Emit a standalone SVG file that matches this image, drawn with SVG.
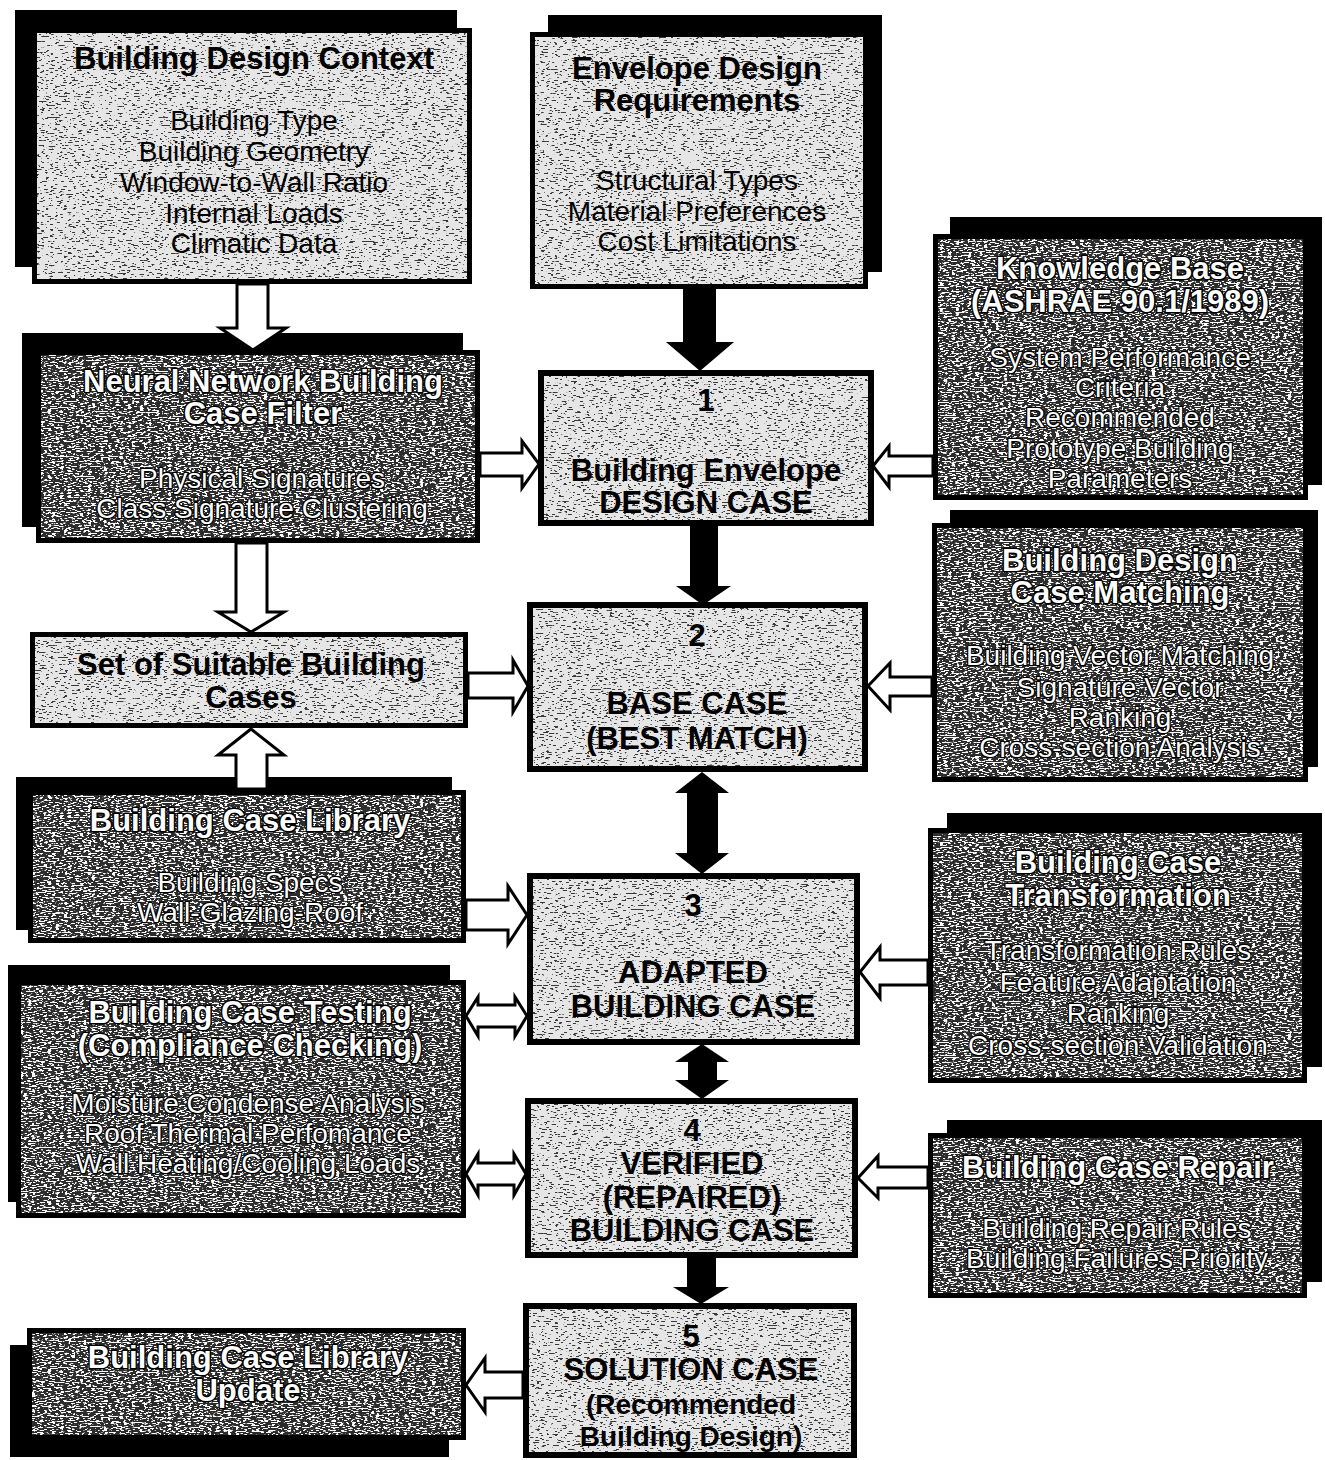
<svg xmlns="http://www.w3.org/2000/svg" width="1325" height="1460" viewBox="0 0 1325 1460">
  <style>
    .shadow { fill: #000; }
    .lt { fill: #e6e6e6; stroke: #000; stroke-width: 5; }
    .dk { fill: #2c2c2c; stroke: #000; stroke-width: 5; }
    .core { fill: #e6e6e6; stroke: #000; stroke-width: 6; }
    text { font-family: "Liberation Sans", Arial, Helvetica, sans-serif; text-anchor: middle; }
    .tb { font-weight: bold; font-size: 31px; fill: #000; }
    .tb2 { font-weight: bold; font-size: 28px; fill: #000; }
    .tr { font-size: 28px; fill: #000; }
    .wb { font-weight: bold; font-size: 31px; fill: #fff; stroke: #000; stroke-width: 3; paint-order: stroke; stroke-linejoin: round; }
    .wr { font-size: 28px; fill: #fff; stroke: #000; stroke-width: 2.6; paint-order: stroke; stroke-linejoin: round; }
    .hollow { fill: #fff; stroke: #000; stroke-width: 3; stroke-linejoin: miter; }
    .solid { fill: #000; }
    .gl { fill: #000; opacity: 0.75; }
    .gd { fill: #fff; }
  </style>
  <defs>
    <!-- sparse dark streaks for pale panels -->
    <filter id="grainL" x="0" y="0" width="1" height="1">
      <feTurbulence type="fractalNoise" baseFrequency="0.22 0.75" numOctaves="2" seed="7" result="t"/>
      <feColorMatrix in="t" type="matrix" values="0 0 0 0 0  0 0 0 0 0  0 0 0 0 0  -24 0 0 0 9.2" result="d"/>
      <feComposite in="d" in2="SourceAlpha" operator="in"/>
    </filter>
    <!-- light streaks for dark panels -->
    <filter id="grainD" x="0" y="0" width="1" height="1">
      <feTurbulence type="fractalNoise" baseFrequency="0.25 0.8" numOctaves="2" seed="11" result="t"/>
      <feColorMatrix in="t" type="matrix" values="0 0 0 0 1  0 0 0 0 1  0 0 0 0 1  14 0 0 0 -7.3" result="d"/>
      <feComposite in="d" in2="SourceAlpha" operator="in"/>
    </filter>
  </defs>

  <!-- Building Design Context -->
  <g id="design-context">
    <rect class="shadow" x="15" y="10" width="442" height="257"/>
    <rect class="lt" x="34.5" y="30.5" width="435" height="251"/>
    <rect class="gl" x="37" y="33" width="430" height="246" filter="url(#grainL)"/>
    <text class="tb" x="254" y="69">Building Design Context</text>
    <text class="tr" x="254" y="130">Building Type</text>
    <text class="tr" x="254" y="161">Building Geometry</text>
    <text class="tr" x="254" y="192">Window-to-Wall Ratio</text>
    <text class="tr" x="254" y="223">Internal Loads</text>
    <text class="tr" x="254" y="253">Climatic Data</text>
  </g>

  <!-- Envelope Design Requirements -->
  <g id="envelope-requirements">
    <rect class="shadow" x="548" y="15" width="334" height="257"/>
    <rect class="lt" x="532.5" y="34.5" width="333" height="252"/>
    <rect class="gl" x="535" y="37" width="328" height="247" filter="url(#grainL)"/>
    <text class="tb" x="697" y="79">Envelope Design</text>
    <text class="tb" x="697" y="111">Requirements</text>
    <text class="tr" x="697" y="190">Structural Types</text>
    <text class="tr" x="697" y="221">Material Preferences</text>
    <text class="tr" x="697" y="251">Cost Limitations</text>
  </g>

  <!-- Knowledge Base -->
  <g id="knowledge-base">
    <rect class="shadow" x="950" y="217" width="372" height="268"/>
    <rect class="dk" x="935.5" y="236.5" width="370" height="261"/>
    <rect class="gd" x="938" y="239" width="365" height="256" filter="url(#grainD)"/>
    <text class="wb" x="1120" y="279">Knowledge Base</text>
    <text class="wb" x="1120" y="312">(ASHRAE 90.1/1989)</text>
    <text class="wr" x="1120" y="367">System Performance</text>
    <text class="wr" x="1120" y="397">Criteria</text>
    <text class="wr" x="1120" y="427">Recommended</text>
    <text class="wr" x="1120" y="458">Prototype Building</text>
    <text class="wr" x="1120" y="488">Parameters</text>
  </g>

  <!-- Neural Network Building Case Filter -->
  <g id="neural-filter">
    <rect class="shadow" x="22" y="333" width="441" height="194"/>
    <rect class="dk" x="38.5" y="352.5" width="439" height="188"/>
    <rect class="gd" x="41" y="355" width="434" height="183" filter="url(#grainD)"/>
    <text class="wb" x="263" y="392">Neural Network Building</text>
    <text class="wb" x="263" y="424">Case Filter</text>
    <text class="wr" x="262" y="488">Physical Signatures</text>
    <text class="wr" x="262" y="518">Class Signature Clustering</text>
  </g>

  <!-- Set of Suitable Building Cases -->
  <g id="suitable-cases">
    <rect class="lt" x="32.5" y="634.5" width="433" height="91"/>
    <rect class="gl" x="35" y="637" width="428" height="86" filter="url(#grainL)"/>
    <text class="tb" x="251" y="675">Set of Suitable Building</text>
    <text class="tb" x="251" y="708">Cases</text>
  </g>

  <!-- Building Case Library -->
  <g id="case-library">
    <rect class="shadow" x="16" y="777" width="436" height="153"/>
    <rect class="dk" x="30.5" y="792.5" width="433" height="148"/>
    <rect class="gd" x="33" y="795" width="428" height="143" filter="url(#grainD)"/>
    <text class="wb" x="250" y="831">Building Case Library</text>
    <text class="wr" x="250" y="892">Building Specs</text>
    <text class="wr" x="250" y="922">Wall-Glazing-Roof</text>
  </g>

  <!-- Building Case Testing -->
  <g id="case-testing">
    <rect class="shadow" x="8" y="965" width="442" height="237"/>
    <rect class="dk" x="18.5" y="982.5" width="445" height="233"/>
    <rect class="gd" x="21" y="985" width="440" height="228" filter="url(#grainD)"/>
    <text class="wb" x="250" y="1023">Building Case Testing</text>
    <text class="wb" x="250" y="1056">(Compliance Checking)</text>
    <text class="wr" x="248" y="1113">Moisture Condense Analysis</text>
    <text class="wr" x="248" y="1143">Roof Thermal Perfomance</text>
    <text class="wr" x="248" y="1173">Wall Heating/Cooling Loads</text>
  </g>

  <!-- Building Case Library Update -->
  <g id="library-update">
    <rect class="shadow" x="10" y="1345" width="439" height="112"/>
    <rect class="dk" x="29.5" y="1330.5" width="434" height="107"/>
    <rect class="gd" x="32" y="1333" width="429" height="102" filter="url(#grainD)"/>
    <text class="wb" x="248" y="1368">Building Case Library</text>
    <text class="wb" x="248" y="1401">Update</text>
  </g>

  <!-- Building Design Case Matching -->
  <g id="case-matching">
    <rect class="shadow" x="950" y="510" width="368" height="257"/>
    <rect class="dk" x="934.5" y="525.5" width="371" height="254"/>
    <rect class="gd" x="937" y="528" width="366" height="249" filter="url(#grainD)"/>
    <text class="wb" x="1120" y="571">Building Design</text>
    <text class="wb" x="1120" y="603">Case Matching</text>
    <text class="wr" x="1120" y="665">Building Vector Matching</text>
    <text class="wr" x="1120" y="697">Signature Vector</text>
    <text class="wr" x="1120" y="727">Ranking</text>
    <text class="wr" x="1120" y="757">Cross-section Analysis</text>
  </g>

  <!-- Building Case Transformation -->
  <g id="case-transformation">
    <rect class="shadow" x="947" y="813" width="375" height="254"/>
    <rect class="dk" x="930.5" y="830.5" width="374" height="250"/>
    <rect class="gd" x="933" y="833" width="369" height="245" filter="url(#grainD)"/>
    <text class="wb" x="1118" y="873">Building Case</text>
    <text class="wb" x="1118" y="906">Transformation</text>
    <text class="wr" x="1118" y="960">Transformation Rules</text>
    <text class="wr" x="1118" y="992">Feature Adaptation</text>
    <text class="wr" x="1118" y="1023">Ranking</text>
    <text class="wr" x="1118" y="1055">Cross-section Validation</text>
  </g>

  <!-- Building Case Repair -->
  <g id="case-repair">
    <rect class="shadow" x="947" y="1120" width="375" height="162"/>
    <rect class="dk" x="930.5" y="1135.5" width="374" height="160"/>
    <rect class="gd" x="933" y="1138" width="369" height="155" filter="url(#grainD)"/>
    <text class="wb" x="1118" y="1178">Building Case Repair</text>
    <text class="wr" x="1117" y="1238">Building Repair Rules</text>
    <text class="wr" x="1117" y="1268">Building Failures Priority</text>
  </g>

  <!-- 1: design case -->
  <g id="step1-design-case">
    <rect class="core" x="541" y="373" width="330" height="150"/>
    <rect class="gl" x="544" y="376" width="324" height="144" filter="url(#grainL)"/>
    <text class="tb" x="706" y="411">1</text>
    <text class="tb" x="706" y="481">Building Envelope</text>
    <text class="tb" x="706" y="513">DESIGN CASE</text>
  </g>

  <!-- 2: base case -->
  <g id="step2-base-case">
    <rect class="core" x="530" y="605" width="335" height="164"/>
    <rect class="gl" x="533" y="608" width="329" height="158" filter="url(#grainL)"/>
    <text class="tb" x="697" y="646">2</text>
    <text class="tb" x="697" y="714">BASE CASE</text>
    <text class="tb" x="697" y="749">(BEST MATCH)</text>
  </g>

  <!-- 3: adapted case -->
  <g id="step3-adapted-case">
    <rect class="core" x="530" y="876" width="327" height="166"/>
    <rect class="gl" x="533" y="879" width="321" height="160" filter="url(#grainL)"/>
    <text class="tb" x="693" y="916">3</text>
    <text class="tb" x="693" y="983">ADAPTED</text>
    <text class="tb" x="693" y="1017">BUILDING CASE</text>
  </g>

  <!-- 4: verified case -->
  <g id="step4-verified-case">
    <rect class="core" x="528" y="1101" width="327" height="154"/>
    <rect class="gl" x="531" y="1104" width="321" height="148" filter="url(#grainL)"/>
    <text class="tb" x="692" y="1141">4</text>
    <text class="tb" x="692" y="1174">VERIFIED</text>
    <text class="tb" x="692" y="1208">(REPAIRED)</text>
    <text class="tb" x="692" y="1241">BUILDING CASE</text>
  </g>

  <!-- 5: solution case -->
  <g id="step5-solution-case">
    <rect class="core" x="526" y="1306" width="328" height="149"/>
    <rect class="gl" x="529" y="1309" width="322" height="143" filter="url(#grainL)"/>
    <text class="tb" x="691" y="1347">5</text>
    <text class="tb" x="691" y="1380">SOLUTION CASE</text>
    <text class="tb2" x="691" y="1414">(Recommended</text>
    <text class="tb2" x="691" y="1446">Building Design)</text>
  </g>

  <!-- connectors -->
  <g id="connectors">
    <!-- context -> neural filter -->
    <polygon class="hollow" points="237,284 237,328 220,328 253,350 286,328 268,328 268,284"/>
    <!-- requirements -> step 1 -->
    <polygon class="solid" points="683,289 683,342 666,342 700,371 734,342 716,342 716,289"/>
    <!-- neural filter -> step 1 -->
    <polygon class="hollow" points="480,453 522,453 522,441 539,464 522,488 522,476 480,476"/>
    <!-- knowledge base -> step 1 -->
    <polygon class="hollow" points="933,456 889,456 889,446 873,466 889,487 889,476 933,476"/>
    <!-- step 1 -> step 2 -->
    <polygon class="solid" points="690,526 690,586 676,586 703,605 731,586 718,586 718,526"/>
    <!-- neural filter -> suitable cases -->
    <polygon class="hollow" points="236,543 236,612 218,612 251,632 284,612 267,612 267,543"/>
    <!-- case library -> suitable cases -->
    <polygon class="hollow" points="236,789 236,755 218,755 251,729 284,755 267,755 267,789"/>
    <!-- suitable cases -> step 2 -->
    <polygon class="hollow" points="468,673 513,673 513,660 528,686 513,712 513,698 468,698"/>
    <!-- case matching -> step 2 -->
    <polygon class="hollow" points="932,677 890,677 890,663 868,686 890,710 890,696 932,696"/>
    <!-- step 2 <-> step 3 -->
    <polygon class="solid" points="702,772 729,793 718,793 718,853 729,853 702,874 675,853 687,853 687,793 675,793"/>
    <!-- case library -> step 3 -->
    <polygon class="hollow" points="466,900 508,900 508,886 527,915 508,944 508,930 466,930"/>
    <!-- testing <-> step 3 -->
    <polygon class="hollow" points="466,1016 478,997 478,1005 515,1005 515,997 527,1016 515,1036 515,1027 478,1027 478,1036"/>
    <!-- transformation -> step 3 -->
    <polygon class="hollow" points="928,960 880,960 880,947 860,972 880,998 880,985 928,985"/>
    <!-- step 3 <-> step 4 -->
    <polygon class="solid" points="702,1044 729,1062 717,1062 717,1080 729,1080 702,1099 675,1080 688,1080 688,1062 675,1062"/>
    <!-- testing <-> step 4 -->
    <polygon class="hollow" points="466,1174 478,1154 478,1163 514,1163 514,1154 526,1174 514,1195 514,1185 478,1185 478,1195"/>
    <!-- repair -> step 4 -->
    <polygon class="hollow" points="928,1167 878,1167 878,1156 858,1178 878,1198 878,1188 928,1188"/>
    <!-- step 4 -> step 5 -->
    <polygon class="solid" points="687,1257 687,1287 673,1287 701,1304 729,1287 716,1287 716,1257"/>
    <!-- step 5 -> library update -->
    <polygon class="hollow" points="523,1372 485,1372 485,1358 466,1385 485,1412 485,1398 523,1398"/>
  </g>
</svg>
